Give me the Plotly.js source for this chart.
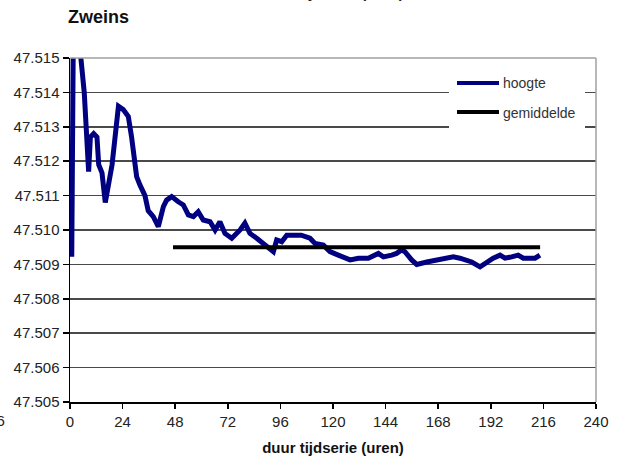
<!DOCTYPE html>
<html>
<head>
<meta charset="utf-8">
<script src="https://cdn.plot.ly/plotly-3.0.1.min.js"></script>
<style>html,body{margin:0;padding:0;background:#fff;}#chart{width:620px;height:463px;}</style>
</head>
<body>
<div id="chart"></div>
<script>
// ---- data ----
const hoogteUren = [0.8, 1.5, 3, 4.5, 6.5, 8.5, 9.3, 10.8, 12.3, 13.1, 14.6, 16.1, 19.2, 21.4, 22.1, 24.3, 26.6, 28.1, 29.3, 30.4, 31.9, 34.2, 35.7, 38, 40.3, 42.6, 44.1, 46.4, 49.4, 51.7, 54, 56.3, 58.5, 60.8, 63.9, 66.2, 68.4, 70.7, 73.8, 76, 77.6, 79.8, 82.1, 85.2, 88.2, 91.3, 92.8, 94.3, 96.6, 98.9, 105.5, 109.5, 111.8, 115.6, 118.6, 122.4, 127.8, 131.6, 136.1, 140.7, 143, 146.8, 149, 151.3, 152.8, 155.9, 158.2, 162.8, 167.3, 172.6, 174.9, 177.9, 183.3, 187.1, 190.1, 193.1, 196.2, 198.5, 201.5, 204.5, 206.8, 212.2, 214.4];
const hoogteWaarde = [47.50922, 47.5156, 47.5156, 47.5153, 47.5140, 47.5117, 47.5127, 47.5128, 47.5127, 47.5119, 47.51166, 47.5108, 47.5119, 47.5133, 47.5136, 47.5135, 47.5133, 47.5127, 47.5122, 47.51155, 47.51131, 47.5110, 47.51056, 47.51039, 47.5101, 47.51068, 47.51087, 47.51097, 47.51082, 47.51073, 47.51044, 47.51039, 47.51053, 47.51029, 47.51024, 47.5100, 47.51024, 47.5099, 47.50976, 47.5099, 47.5100, 47.5102, 47.5099, 47.50976, 47.50961, 47.50947, 47.50937, 47.50971, 47.50966, 47.50985, 47.50985, 47.50976, 47.50961, 47.50956, 47.50937, 47.50927, 47.50913, 47.50918, 47.50918, 47.50932, 47.50922, 47.50927, 47.50932, 47.50942, 47.50937, 47.50913, 47.50900, 47.50907, 47.50913, 47.50922, 47.50922, 47.50918, 47.50907, 47.50893, 47.50907, 47.50918, 47.50927, 47.50918, 47.50922, 47.50927, 47.50918, 47.50918, 47.50927];
const gemiddeldeUren = [47, 214.5];
const gemiddeldeWaarde = [47.5095, 47.5095];
const xTicks = [0, 24, 48, 72, 96, 120, 144, 168, 192, 216, 240];
const yTicks = [47.505, 47.506, 47.507, 47.508, 47.509, 47.510, 47.511, 47.512, 47.513, 47.514, 47.515];
const yTickLabels = ['47.505', '47.506', '47.507', '47.508', '47.509', '47.510', '47.511', '47.512', '47.513', '47.514', '47.515'];
const seriesNames = ['hoogte', 'gemiddelde'];
const chartTitle = 'Zweins';
const xTitle = 'duur tijdserie (uren)';

// ---- layout helpers (pixel -> paper) ----
const L = 70, R = 596, T = 58, B = 402;
const px = v => (v - L) / (R - L);
const py = v => (B - v) / (B - T);
const BLUE = '#000080';
const FONT = 'Liberation Sans, Arial, sans-serif';

const traces = [
  {x: hoogteUren, y: hoogteWaarde, name: seriesNames[0], type: 'scatter', mode: 'lines',
   line: {color: BLUE, width: 5}, showlegend: false, hoverinfo: 'skip'},
  {x: gemiddeldeUren, y: gemiddeldeWaarde, name: seriesNames[1], type: 'scatter', mode: 'lines',
   line: {color: '#000000', width: 4}, showlegend: false, hoverinfo: 'skip'}
];

const layout = {
  width: 620, height: 463,
  margin: {l: L, r: 620 - R, t: T, b: 463 - B},
  paper_bgcolor: '#fff', plot_bgcolor: '#fff',
  font: {family: FONT, color: '#222', size: 15},
  showlegend: false,
  title: {text: '<b>' + chartTitle + '</b>', font: {family: FONT, size: 18, color: '#111'},
          xref: 'container', x: 68 / 620, xanchor: 'left', yref: 'container', y: 1 - 17 / 463, yanchor: 'middle'},
  xaxis: {range: [0, 240], tickvals: xTicks, ticktext: xTicks.map(String), showgrid: false, zeroline: false,
          showline: true, linecolor: '#000', linewidth: 1.5, ticks: 'outside', ticklen: 5, tickcolor: '#000', tickwidth: 1.5,
          tickfont: {size: 15, color: '#222'},
          title: {text: '<b>' + xTitle + '</b>', font: {size: 15, color: '#111'}, standoff: 14}},
  yaxis: {range: [47.505, 47.515], tickvals: yTicks, ticktext: yTickLabels, showgrid: true, gridcolor: '#4a4a4a', gridwidth: 1.5,
          zeroline: false, showline: true, linecolor: '#000', linewidth: 1.5, ticks: 'outside', ticklen: 6,
          tickcolor: '#000', tickwidth: 1.5, tickfont: {size: 15, color: '#222'}},
  shapes: [
    {type: 'line', xref: 'paper', yref: 'paper', x0: 0, x1: 1, y0: 1, y1: 1, line: {color: '#a0a0a0', width: 1.5}, layer: 'above'},
    {type: 'line', xref: 'paper', yref: 'paper', x0: 1, x1: 1, y0: 0, y1: 1, line: {color: '#a0a0a0', width: 1.5}, layer: 'above'},
    {type: 'rect', xref: 'paper', yref: 'paper', x0: px(449), x1: px(585), y0: py(142), y1: py(64), fillcolor: '#fff', line: {width: 0}, layer: 'above'},
    {type: 'line', xref: 'paper', yref: 'paper', x0: px(457), x1: px(499), y0: py(83), y1: py(83), line: {color: BLUE, width: 4}, layer: 'above'},
    {type: 'line', xref: 'paper', yref: 'paper', x0: px(457), x1: px(499), y0: py(112), y1: py(112), line: {color: '#000', width: 4}, layer: 'above'}
  ],
  annotations: [
    {text: seriesNames[0], xref: 'paper', yref: 'paper', x: px(501), y: py(83), xanchor: 'left', yanchor: 'middle', showarrow: false, font: {size: 14, color: '#333'}},
    {text: seriesNames[1], xref: 'paper', yref: 'paper', x: px(501), y: py(113), xanchor: 'left', yanchor: 'middle', showarrow: false, font: {size: 14, color: '#333'}},
    {text: '<b>' + xTitle + '</b>', xref: 'paper', yref: 'paper', x: px(333), y: py(-7.5), xanchor: 'center', yanchor: 'middle', showarrow: false, font: {size: 15, color: '#222'}},
    {text: yTickLabels[1], xref: 'paper', yref: 'paper', x: px(7), y: py(420), xanchor: 'right', yanchor: 'middle', showarrow: false, font: {size: 15, color: '#222'}}
  ]
};

Plotly.newPlot('chart', traces, layout, {displayModeBar: false, staticPlot: true});
</script>
</body>
</html>
